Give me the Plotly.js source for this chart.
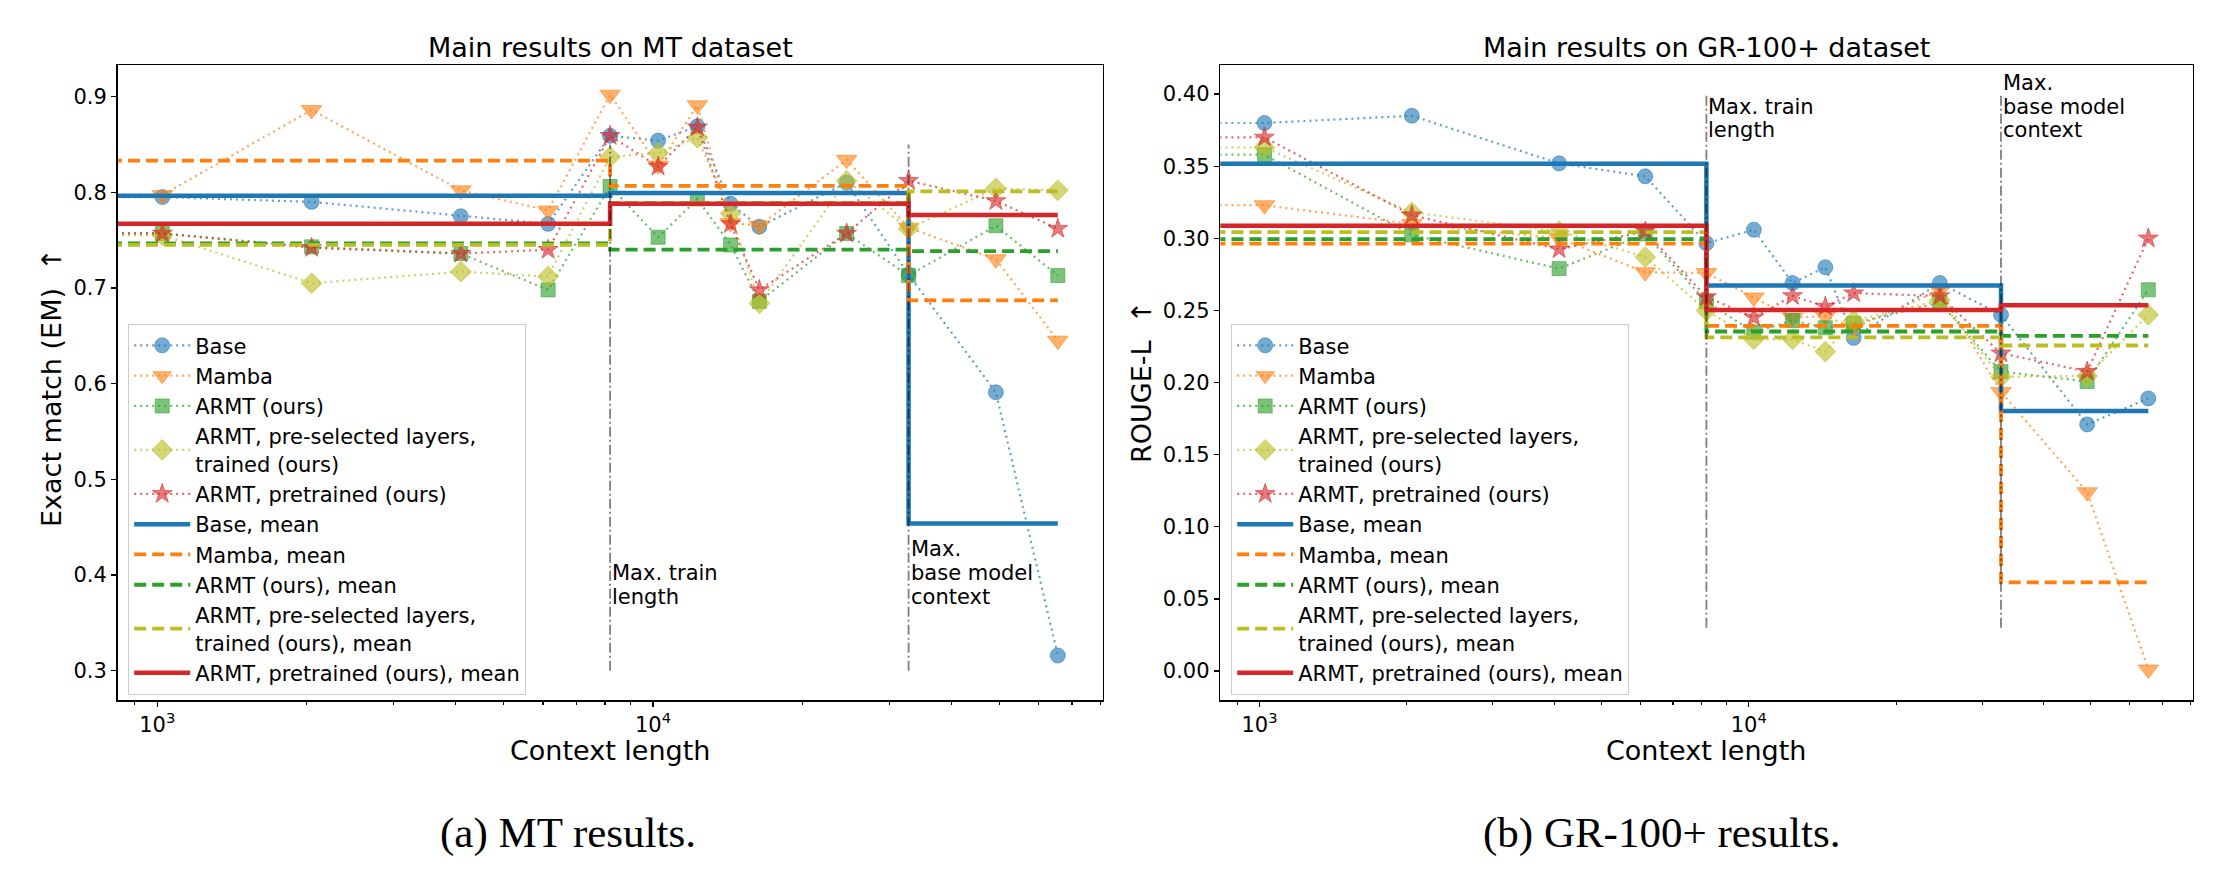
<!DOCTYPE html>
<html>
<head>
<meta charset="utf-8">
<script src="https://cdn.plot.ly/plotly-3.0.1.min.js"></script>
<style>
html, body { margin: 0; padding: 0; background: #ffffff; }
#chart { width: 2225px; height: 880px; }
</style>
</head>
<body>
<div id="chart"></div>
<script>
// ---------------- DATA ----------------
const contextLength = [1024, 2048, 4096, 6144, 8192, 10240, 12288, 14336, 16384, 24576, 32768, 49152, 65536];
const seriesNames = ['Base', 'Mamba', 'ARMT (ours)', 'ARMT, pre-selected layers,<br>trained (ours)', 'ARMT, pretrained (ours)'];
const meanNames = ['Base, mean', 'Mamba, mean', 'ARMT (ours), mean', 'ARMT, pre-selected layers,<br>trained (ours), mean', 'ARMT, pretrained (ours), mean'];

// MT dataset (Exact match)
const mtBase     = [0.795, 0.790, 0.775, 0.767, 0.859, 0.854, 0.869, 0.788, 0.764, 0.810, 0.714, 0.591, 0.316];
const mtMamba    = [0.797, 0.886, 0.802, 0.781, 0.902, 0.828, 0.891, 0.768, 0.765, 0.834, 0.763, 0.730, 0.645];
const mtArmt     = [0.757, 0.743, 0.736, 0.698, 0.806, 0.753, 0.793, 0.745, 0.686, 0.757, 0.713, 0.765, 0.713];
const mtArmtSel  = [0.755, 0.705, 0.717, 0.712, 0.837, 0.841, 0.857, 0.778, 0.684, 0.812, 0.762, 0.804, 0.802];
const mtArmtPre  = [0.757, 0.742, 0.736, 0.740, 0.859, 0.827, 0.868, 0.767, 0.698, 0.757, 0.812, 0.791, 0.762];
// MT means per context segment (<= train length, <= base context, beyond)
const mtBaseMean    = [0.7965, 0.7993, 0.454];
const mtMambaMean   = [0.833, 0.8066, 0.687];
const mtArmtMean    = [0.7467, 0.740, 0.7385];
const mtArmtSelMean = [0.745, 0.789, 0.801];
const mtArmtPreMean = [0.767, 0.788, 0.7763];

// GR-100+ dataset (ROUGE-L)
const grBase     = [0.380, 0.385, 0.352, 0.343, 0.2966, 0.306, 0.269, 0.280, 0.231, 0.269, 0.247, 0.171, 0.189];
const grMamba    = [0.323, 0.310, 0.300, 0.2765, 0.276, 0.259, 0.245, 0.246, 0.238, 0.264, 0.1935, 0.124, 0.001];
const grArmt     = [0.358, 0.3024, 0.279, 0.303, 0.256, 0.235, 0.243, 0.238, 0.241, 0.2555, 0.2076, 0.2007, 0.2643];
const grArmtSel  = [0.363, 0.318, 0.305, 0.287, 0.250, 0.230, 0.230, 0.2215, 0.243, 0.257, 0.204, 0.2046, 0.247];
const grArmtPre  = [0.370, 0.316, 0.2925, 0.3047, 0.2594, 0.2452, 0.2601, 0.2527, 0.262, 0.260, 0.2203, 0.2076, 0.300];
const grBaseMean    = [0.3517, 0.2673, 0.1803];
const grMambaMean   = [0.2964, 0.2393, 0.0615];
const grArmtMean    = [0.2994, 0.2354, 0.2324];
const grArmtSelMean = [0.3043, 0.2314, 0.2257];
const grArmtPreMean = [0.3087, 0.2504, 0.2536];

// Segment starts for means (source lines start at x=0, off the log axis) and end
const segmentStarts = [1, 8192, 32768];
const segmentEnd = 65536;
// Reference vertical lines
const refLinesX = [8192, 32768];
const mtRefLineY = [0.3, 0.85];
const grRefLineY = [0.03, 0.40];
const seriesStartX = 1; // source series begin at x=0, clipped off the log axis

// ---------------- STYLE ----------------
const W = 2225, H = 880;
const FONT = 'DejaVu Sans, Liberation Sans, sans-serif';
const colors = [[31,119,180],[255,127,14],[44,160,44],[188,189,34],[214,39,40]];
const symbols = ['circle', 'triangle-down', 'square', 'diamond', 'star'];
const sizes = [15, 18, 14, 16, 15];
const meanDash = ['solid', '12px,6px', '12px,6px', '12px,6px', 'solid'];
const meanWidth = [4.5, 3.8, 3.8, 3.8, 4.5];
const rgba = (c, a) => `rgba(${c[0]},${c[1]},${c[2]},${a})`;

function panelTraces(seriesList, meanList, refY, xa, ya, legendId) {
  const traces = [];
  seriesList.forEach((vals, i) => {
    traces.push({
      type: 'scatter', mode: 'lines+markers',
      x: [seriesStartX].concat(contextLength),
      y: [vals[0]].concat(vals),
      name: seriesNames[i], xaxis: xa, yaxis: ya, legend: legendId,
      line: { color: rgba(colors[i], 0.7), width: 2.2, dash: '2px,4px' },
      marker: { symbol: symbols[i], size: sizes[i], color: rgba(colors[i], 0.62),
                line: { color: rgba(colors[i], 0.55), width: 1 } },
      hoverinfo: 'skip'
    });
  });
  meanList.forEach((m, i) => {
    traces.push({
      type: 'scatter', mode: 'lines',
      x: segmentStarts.concat([segmentEnd]),
      y: m.concat([m[m.length - 1]]),
      name: meanNames[i], xaxis: xa, yaxis: ya, legend: legendId,
      line: { color: rgba(colors[i], 1), width: meanWidth[i], dash: meanDash[i], shape: 'hv' },
      hoverinfo: 'skip'
    });
  });
  refLinesX.forEach(v => {
    traces.push({
      type: 'scatter', mode: 'lines', x: [v, v], y: refY,
      xaxis: xa, yaxis: ya, showlegend: false, hoverinfo: 'skip',
      line: { color: 'rgba(0,0,0,0.5)', width: 1.8, dash: '10px,3px,2px,3px' }
    });
  });
  return traces;
}

const data = [].concat(
  panelTraces([mtBase, mtMamba, mtArmt, mtArmtSel, mtArmtPre],
              [mtBaseMean, mtMambaMean, mtArmtMean, mtArmtSelMean, mtArmtPreMean],
              mtRefLineY, 'x', 'y', 'legend'),
  panelTraces([grBase, grMamba, grArmt, grArmtSel, grArmtPre],
              [grBaseMean, grMambaMean, grArmtMean, grArmtSelMean, grArmtPreMean],
              grRefLineY, 'x2', 'y2', 'legend2')
);

const minorVals = [900, 2000, 3000, 4000, 5000, 6000, 7000, 8000, 9000,
                   20000, 30000, 40000, 50000, 60000, 70000, 80000];

function xAxis(domain, anchor) {
  return {
    type: 'log', domain: domain, anchor: anchor, range: [2.9200, 4.9068],
    showline: true, linecolor: '#000', linewidth: 1.5, mirror: true,
    showgrid: false, zeroline: false,
    ticks: 'outside', ticklen: 5, tickwidth: 1.3, tickcolor: '#000',
    tickmode: 'array', tickvals: [1000, 10000], ticktext: ['10<sup>3</sup>', '10<sup>4</sup>'],
    tickfont: { family: FONT, size: 21, color: '#000' },
    minor: { tickmode: 'array', tickvals: minorVals, ticks: 'outside', ticklen: 3, tickwidth: 1.1, tickcolor: '#000' }
  };
}
function yAxis(domain, anchor, range, tick0, dtick, fmt) {
  return {
    domain: domain, anchor: anchor, range: range,
    showline: true, linecolor: '#000', linewidth: 1.5, mirror: true,
    showgrid: false, zeroline: false,
    ticks: 'outside', ticklen: 5, tickwidth: 1.3, tickcolor: '#000',
    tickmode: 'linear', tick0: tick0, dtick: dtick, tickformat: fmt,
    tickfont: { family: FONT, size: 21, color: '#000' }
  };
}

const yDom = [1 - 700 / H, 1 - 65 / H];
const legendStyle = (xpx) => ({
  x: xpx / W, y: 1 - 324 / H, xanchor: 'left', yanchor: 'top',
  bgcolor: 'rgba(255,255,255,0.8)', bordercolor: '#cccccc', borderwidth: 1.2,
  font: { family: FONT, size: 21, color: '#000' },
  itemwidth: 56, tracegroupgap: 0, traceorder: 'normal', valign: 'middle'
});

function ann(text, xpx, ypx, opts) {
  return Object.assign({
    text: text, xref: 'paper', yref: 'paper', x: xpx / W, y: 1 - ypx / H,
    xanchor: 'center', yanchor: 'middle', showarrow: false,
    font: { family: FONT, size: 21, color: '#000' }
  }, opts || {});
}
function refAnn(text, xaxisRef, xval, ypx) {
  return {
    text: text, xref: xaxisRef, yref: 'paper', x: Math.log10(xval), y: 1 - ypx / H,
    xanchor: 'left', yanchor: 'middle', showarrow: false, xshift: 0,
    font: { family: FONT, size: 21, color: '#000' }
  };
}

const annotations = [
  ann('Main results on MT dataset', 610, 47, { font: { family: FONT, size: 27, color: '#000' } }),
  ann('Main results on GR-100+ dataset', 1706, 47, { font: { family: FONT, size: 27, color: '#000' } }),
  ann('Context length', 610, 750, { font: { family: FONT, size: 27, color: '#000' } }),
  ann('Context length', 1706, 750, { font: { family: FONT, size: 27, color: '#000' } }),
  ann('Exact match (EM)  ↑', 51, 388, { textangle: -90, font: { family: FONT, size: 27, color: '#000' } }),
  ann('ROUGE-L  ↑', 1141, 382, { textangle: -90, font: { family: FONT, size: 27, color: '#000' } }),
  ann('(a) MT results.', 568, 833, { font: { family: 'Liberation Serif, Times New Roman, serif', size: 43, color: '#000' } }),
  ann('(b) GR-100+ results.', 1661, 833, { font: { family: 'Liberation Serif, Times New Roman, serif', size: 43, color: '#000' } }),
  refAnn('Max. train', 'x', refLinesX[0], 573),
  refAnn('length', 'x', refLinesX[0], 597),
  refAnn('Max.', 'x', refLinesX[1], 549),
  refAnn('base model', 'x', refLinesX[1], 573),
  refAnn('context', 'x', refLinesX[1], 597),
  refAnn('Max. train', 'x2', refLinesX[0], 107),
  refAnn('length', 'x2', refLinesX[0], 130),
  refAnn('Max.', 'x2', refLinesX[1], 83),
  refAnn('base model', 'x2', refLinesX[1], 107),
  refAnn('context', 'x2', refLinesX[1], 130)
];

const layout = {
  width: W, height: H,
  margin: { l: 0, r: 0, t: 0, b: 0, pad: 0 },
  paper_bgcolor: '#fff', plot_bgcolor: '#fff',
  font: { family: FONT, color: '#000' },
  xaxis: xAxis([117.6 / W, 1102.6 / W], 'y'),
  yaxis: yAxis(yDom, 'x', [0.2695, 0.933], 0.3, 0.1, '.1f'),
  xaxis2: xAxis([1220.3 / W, 2192.5 / W], 'y2'),
  yaxis2: yAxis(yDom, 'x2', [-0.0201, 0.4202], 0, 0.05, '.2f'),
  legend: legendStyle(128),
  legend2: legendStyle(1231),
  showlegend: true,
  annotations: annotations
};

Plotly.newPlot('chart', data, layout, { staticPlot: true, displayModeBar: false });
</script>
</body>
</html>
